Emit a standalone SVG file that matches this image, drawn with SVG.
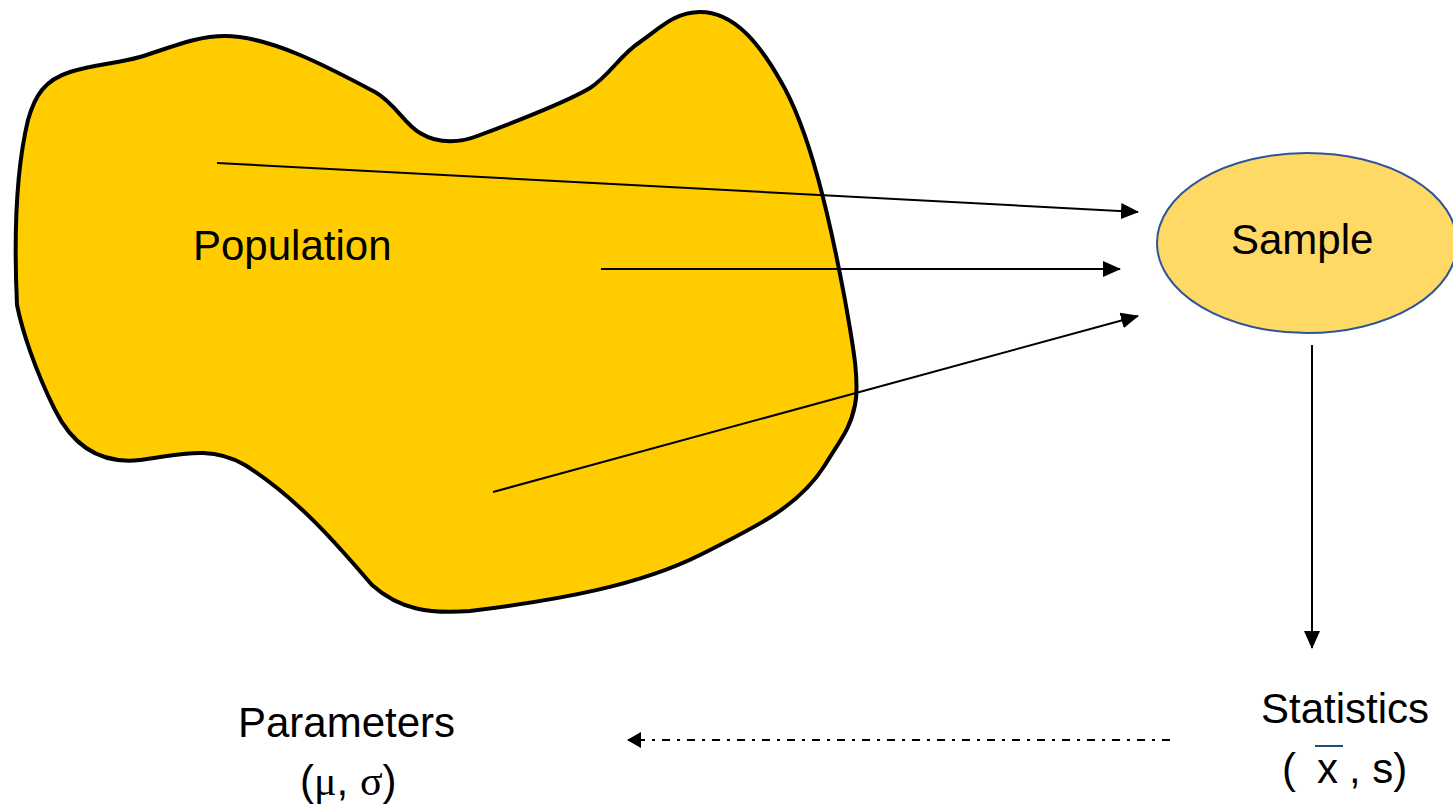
<svg xmlns="http://www.w3.org/2000/svg" width="1453" height="806" viewBox="0 0 1453 806">
<style>
.t{font-family:"Liberation Sans",Arial,sans-serif;font-size:42px;fill:#000}
.s{font-family:"Liberation Serif","Times New Roman",serif}
.c{stroke:#000;stroke-width:2;fill:none}
</style>
<defs>
<marker id="ah" viewBox="0 0 18 16" refX="17" refY="8" markerWidth="18" markerHeight="16" markerUnits="userSpaceOnUse" orient="auto">
<path d="M0,0 L18,8 L0,16 Z" fill="#000"/>
</marker>
<marker id="ah2" viewBox="0 0 14 16" refX="13" refY="8" markerWidth="14" markerHeight="16" markerUnits="userSpaceOnUse" orient="auto">
<path d="M0,0 L14,8 L0,16 Z" fill="#000"/>
</marker>
</defs>
<g id="population">
<path d="M17 305 C14 240,16 170,28 120 C35 95,45 80,70 72 C95 64,115 64,140 57 C170 48,195 36,225 36 C270 36,330 68,375 92 C395 103,405 125,420 133 C435 142,455 145,480 135 C520 120,570 100,590 88 C610 75,620 55,640 42 C660 28,675 12,700 12 C735 12,760 45,780 80 C810 130,830 220,845 300 C852 340,860 380,855 405 C850 430,840 440,825 465 C800 505,760 525,700 555 C640 585,560 600,470 611 C430 614,400 610,372 585 C340 548,300 500,245 465 C210 445,180 455,140 460 C95 465,70 440,55 410 C35 370,22 330,17 305 Z" fill="#FFCC00" stroke="#000" stroke-width="4"/>
<text class="t" x="193" y="260">Population</text>
</g>
<g id="sample">
<ellipse cx="1307" cy="243" rx="150" ry="90" fill="#FFD966" stroke="#2F5597" stroke-width="2"/>
<text class="t" x="1231" y="254">Sample</text>
</g>
<g id="statistics">
<text class="t" x="1261" y="723">Statistics</text>
<text class="t" x="1282" y="783">(</text>
<text class="t" x="1317" y="783">x</text>
<line x1="1315" y1="746" x2="1343" y2="746" stroke="#1F4E79" stroke-width="2"/>
<text class="t" x="1349" y="783">, s)</text>
</g>
<g id="parameters">
<text class="t" x="238" y="737">Parameters</text>
<text class="t" x="300" y="795" font-size="40">(<tspan class="s">μ</tspan>, <tspan class="s">σ</tspan>)</text>
</g>
<g id="connectors">
<line class="c" x1="217" y1="163" x2="1138" y2="212" marker-end="url(#ah)"/>
<line class="c" x1="601" y1="269" x2="1120" y2="269" marker-end="url(#ah)"/>
<line class="c" x1="493" y1="492" x2="1138" y2="316" marker-end="url(#ah)"/>
<line class="c" x1="1312" y1="345" x2="1312" y2="648" marker-end="url(#ah)"/>
<line class="c" x1="1170" y1="740" x2="628" y2="740" stroke-dasharray="8 7 3 7" marker-end="url(#ah2)"/>
</g>
</svg>
